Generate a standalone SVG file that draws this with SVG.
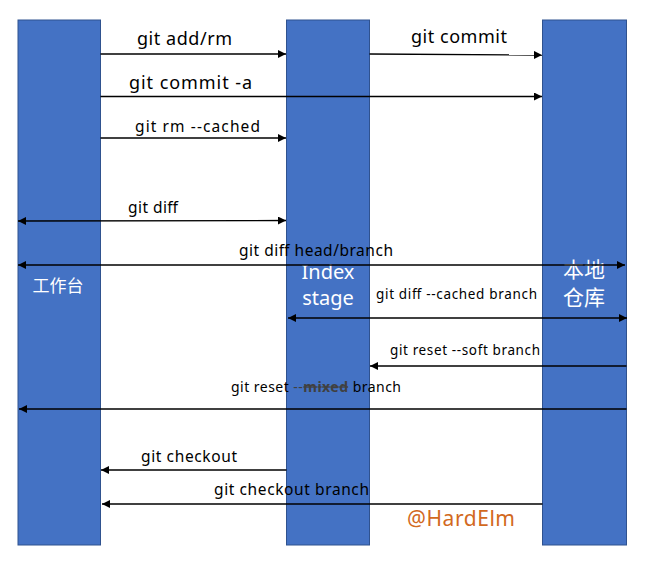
<svg xmlns="http://www.w3.org/2000/svg" width="661" height="566" viewBox="0 0 661 566">
<defs>
<marker id="ah" viewBox="0 0 10 10" refX="10" refY="5" markerWidth="8" markerHeight="8" markerUnits="userSpaceOnUse" orient="auto-start-reverse"><path d="M0,0 L10,5 L0,10 z" fill="#000"/></marker>
</defs>
<style>
.col{fill:#4472C4;stroke:#2F528F;stroke-width:1}
.ln{stroke:#000;stroke-width:1.3;fill:none}
.t{font-family:"Noto Sans","Noto Sans CJK SC",sans-serif;fill:#000}
.w{font-family:"Noto Sans","Noto Sans CJK SC",sans-serif;fill:#fff}
</style>
<rect width="661" height="566" fill="#fff"/>
<g id="worktree"><rect class="col" x="18" y="20" width="82.5" height="525"/><text class="w" x="58" y="292" font-size="17" text-anchor="middle">工作台</text></g>
<g id="index"><rect class="col" x="286.5" y="20" width="83" height="525"/><text class="w" x="328" y="279" font-size="20" text-anchor="middle">Index</text><text class="w" x="328" y="305" font-size="20" text-anchor="middle">stage</text></g>
<g id="repo"><rect class="col" x="542.5" y="20" width="84" height="525"/><text class="w" x="584" y="277" font-size="21" text-anchor="middle">本地</text><text class="w" x="584" y="305" font-size="21" text-anchor="middle">仓库</text></g>
<g id="connectors">
<line class="ln" x1="100.5" y1="54" x2="286" y2="54" marker-end="url(#ah)"/>
<line class="ln" x1="369.5" y1="54" x2="542" y2="55" marker-end="url(#ah)"/>
<line class="ln" x1="100.5" y1="96.5" x2="542" y2="96.5" marker-end="url(#ah)"/>
<line class="ln" x1="100.5" y1="138" x2="286" y2="138" marker-end="url(#ah)"/>
<line class="ln" x1="18" y1="221" x2="286" y2="220.5" marker-start="url(#ah)" marker-end="url(#ah)"/>
<line class="ln" x1="18" y1="265" x2="625" y2="265" marker-start="url(#ah)" marker-end="url(#ah)"/>
<line class="ln" x1="288" y1="318" x2="627" y2="318" marker-start="url(#ah)" marker-end="url(#ah)"/>
<line class="ln" x1="626.5" y1="366" x2="370" y2="366" marker-end="url(#ah)"/>
<line class="ln" x1="626.5" y1="409" x2="19" y2="409" marker-end="url(#ah)"/>
<line class="ln" x1="286.5" y1="470" x2="101" y2="470" marker-end="url(#ah)"/>
<line class="ln" x1="542.5" y1="504" x2="102" y2="504" marker-end="url(#ah)"/>
</g>
<g id="labels">
<text class="t" x="137" y="45" font-size="18" textLength="95">git add/rm</text>
<text class="t" x="411" y="43" font-size="18" textLength="96">git commit</text>
<text class="t" x="129" y="89" font-size="18" textLength="123">git commit -a</text>
<text class="t" x="135" y="132" font-size="15.5" textLength="125">git rm --cached</text>
<text class="t" x="128" y="213" font-size="15.5" textLength="50">git diff</text>
<text class="t" x="239" y="256" font-size="15.5" textLength="154">git diff head/branch</text>
<text class="t" x="376" y="299" font-size="13.5" textLength="161">git diff --cached branch</text>
<text class="t" x="390" y="355" font-size="13.5" textLength="150">git reset --soft branch</text>
<text class="t" x="231" y="392" font-size="14" textLength="170">git reset <tspan fill="#404040">--</tspan><tspan fill="#404040" font-weight="bold" text-decoration="line-through">mixed</tspan> branch</text>
<text class="t" x="141" y="462" font-size="15.5" textLength="96">git checkout</text>
<text class="t" x="214" y="495" font-size="15.5" textLength="155">git checkout branch</text>
<text x="407" y="526" font-size="21" fill="#D2691E" font-family="Noto Sans, sans-serif" textLength="108">@HardElm</text>
</g>
</svg>
